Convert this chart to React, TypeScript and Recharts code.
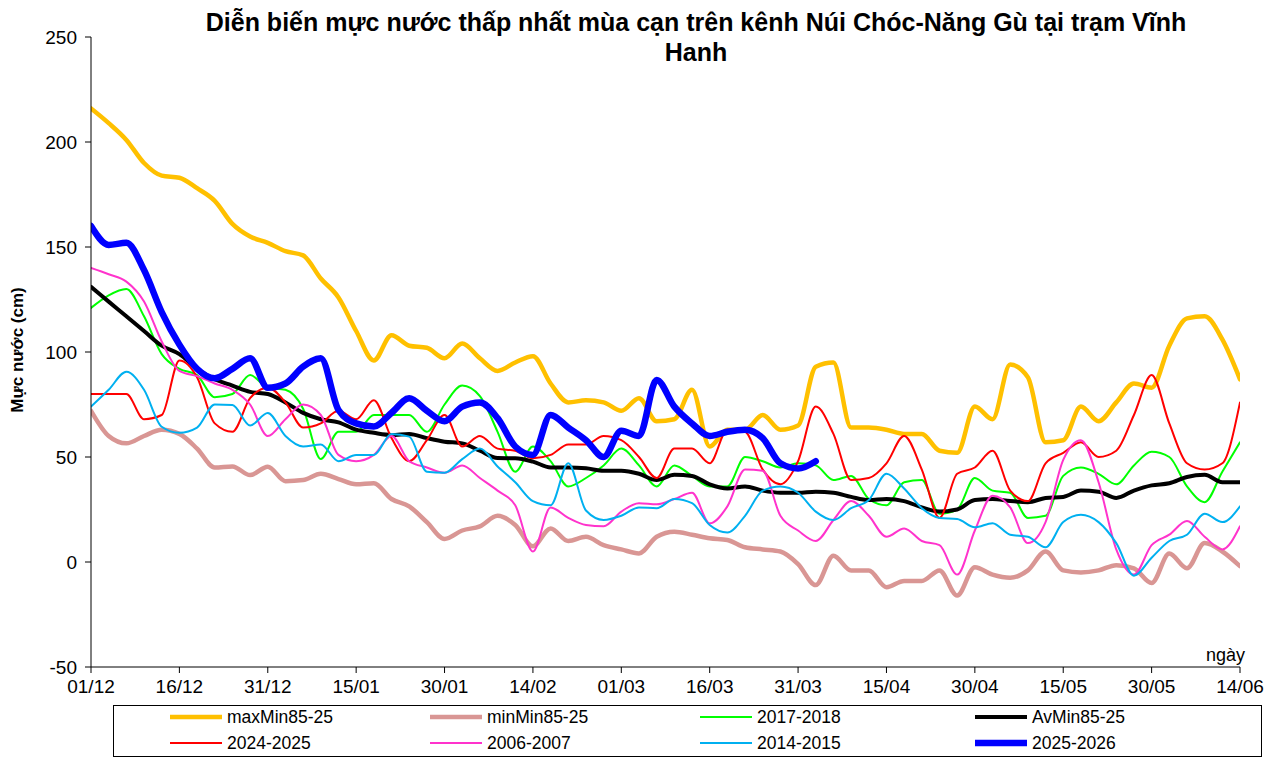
import React from 'react';
import { LineChart, Line, XAxis, YAxis } from 'recharts';

const days = [0,3,6,9,12,15,18,21,24,27,30,33,36,39,42,45,48,51,54,57,60,63,66,69,72,75,78,81,84,87,90,93,96,99,102,105,108,111,114,117,120,123,126,129,132,135,138,141,144,147,150,153,156,159,162,165,168,171,174,177,180,183,186,189,192,195];

const xTickDays = [0,15,30,45,60,75,90,105,120,135,150,165,180,195];
const xTickLabels = ['01/12','16/12','31/12','15/01','30/01','14/02','01/03','16/03','31/03','15/04','30/04','15/05','30/05','14/06'];
const yTicks = [-50,0,50,100,150,200,250];

const maxMin = [216,209,201,190,184,183,178,172,161,155,152,148,146,135,126,110,96,108,103,102,97,104,97,91,95,98,85,76,77,76,72,78,67,68,82,55,63,63,70,63,65,93,95,64,64,63,61,61,53,52,74,68,94,88,57,58,74,67,76,85,83,103,116,117,106,87];
const minMin = [72,60,56.5,60,63,61,54,45,45.5,41.4,45.4,38.5,39,42,39.5,37,37.5,30,26.5,19,11,15,17,22,17.6,7.5,16,10,12,8,6,4.1,12,14.4,13,11.3,10.5,7,6,5,-1,-11,3,-4,-4,-12,-9,-9,-4,-16,-2.5,-6,-7.5,-4,5,-4,-5,-4,-1.5,-3,-10,4,-3,9,5,-2];
const s2017 = [121,127,130,117,99,92,89,78.5,80,89,83,82,73,49,62,62,70,70,70,62,75,84,79,62,43,55,48,36,40,46,54,46,36,46,41,36,36,50,48,45,47,46,39,41,30,27,38,39,23,25,40,34,33,21,22,41,45,42,37,46,52.5,50,36,28.5,43,57];
const avMin = [131,124,117,110,103,99,92,87,84,81,80,76,71,68,66.5,63,61.5,60.5,61,59,57.3,56.5,53,49.5,49.4,47.8,45,45,44.6,43.5,43.5,42,39,41.5,41,37,35,36,34,33,33,33.5,33,31,29.5,30,29,26,24,25,29.5,30,29,28.5,30.5,31,34,33.5,30.5,34,36.5,37.5,40.5,41.5,38,38];
const s2024 = [80,80,80,68,70,96,88,66,62,78,83,76,64,66,72,68,77,59,48,58,70,55,60,54,53,49.4,51,56,56,60,58,50,40,54,54,47,63,62,44,37,48,74,61,39,40,47,60,44,21,42,45,53,34,29,47,52,57,50,53,70,89,66,47,44,47,76];
const s2006 = [140,137,133.5,124,105,91,88.5,85,82,75,60,68,75,70,51,48,51,60,48,45,42.5,46,40,34,27,5,26,21,17.6,17,24,28,27.5,30,33,18.4,26.5,44,43.5,22,15,10,20,29,22,12,16,10,8,-6,15,31.5,26,9,19,48.6,58,38,6,-6,8,13,19.5,12,6,17];
const s2014 = [74,82,90.6,82,64.4,61.5,64,75,74.8,65,71,60,55,56,48,51,51,61,59.7,43,42.5,49,54,45.5,38,29,27,47,24.5,20,22,26,25.6,30,28,17.6,14,22,34,36,33,24,20,25.6,29.5,42,35,25.6,21,20.5,16.5,18.5,13,12,7,19,22.5,19,9,-6.5,2,10,13,23,19,26.5];
const s2025 = [160,151,152,139,119,103.5,92,87.5,92,97,83,85,93,97,72.4,66,64.5,71,78,72,67,74,76,68.5,55,51,70,64,58,50,62.5,60,86.7,74,66,60,62,63,59,47,44.5,48,null,null,null,null,null,null,null,null,null,null,null,null,null,null,null,null,null,null,null,null,null,null,null,null];

const series = [
  { key: 'maxMin', name: 'maxMin85-25', color: '#FFC000', width: 4.5, values: maxMin },
  { key: 'minMin', name: 'minMin85-25', color: '#D99694', width: 4.5, values: minMin },
  { key: 's2017', name: '2017-2018', color: '#00FF00', width: 2, values: s2017 },
  { key: 'avMin', name: 'AvMin85-25', color: '#000000', width: 4, values: avMin },
  { key: 's2024', name: '2024-2025', color: '#FF0000', width: 2, values: s2024 },
  { key: 's2006', name: '2006-2007', color: '#FF33CC', width: 2, values: s2006 },
  { key: 's2014', name: '2014-2015', color: '#00B0F0', width: 2, values: s2014 },
  { key: 's2025', name: '2025-2026', color: '#0000FF', width: 6.5, values: s2025 },
];

const data = days.map((d, i) => {
  const row: Record<string, number | null> = { day: d };
  series.forEach((s) => { row[s.key] = s.values[i]; });
  return row;
});

const FONT = '"Liberation Sans", Arial, sans-serif';

const legendCols = [170, 430, 700, 975];
const legendRows = [717, 743];

export default function App() {
  return (
    <div style={{ position: 'absolute', left: 0, top: 0, width: 1280, height: 758, background: '#fff', fontFamily: FONT, overflow: 'hidden' }}>
      <div style={{ position: 'absolute', left: 146, top: 7, width: 1100, textAlign: 'center', fontWeight: 'bold', fontSize: 25, lineHeight: '30px', color: '#000' }}>
        Diễn biến mực nước thấp nhất mùa cạn trên kênh Núi Chóc-Năng Gù tại trạm Vĩnh<br />Hanh
      </div>
      <div style={{ position: 'absolute', left: 18, top: 350, transform: 'translate(-50%, -50%) rotate(-90deg)', whiteSpace: 'nowrap', fontWeight: 'bold', fontSize: 17, color: '#000' }}>
        Mực nước (cm)
      </div>
      <div style={{ position: 'absolute', left: 1206, top: 645, fontSize: 18, color: '#000' }}>ngày</div>
      <div style={{ position: 'absolute', left: 0, top: 0 }}>
        <LineChart width={1280} height={700} data={data} margin={{ top: 37, right: 40, bottom: 3, left: 0 }}>
          <XAxis
            dataKey="day"
            type="number"
            domain={[0, 195]}
            ticks={xTickDays}
            tickFormatter={(v: number) => xTickLabels[xTickDays.indexOf(v)]}
            height={30}
            stroke="#000"
            tickSize={6}
            tickMargin={7}
            tick={{ fill: '#000', fontSize: 19, fontFamily: FONT }}
            allowDataOverflow
            interval={0}
          />
          <YAxis
            type="number"
            domain={[-50, 250]}
            ticks={yTicks}
            width={91}
            stroke="#000"
            tickSize={6}
            tickMargin={8}
            tick={{ fill: '#000', fontSize: 19, fontFamily: FONT }}
            allowDataOverflow
            interval={0}
          />
          {series.map((s) => (
            <Line
              key={s.key}
              dataKey={s.key}
              name={s.name}
              type="monotone"
              stroke={s.color}
              strokeWidth={s.width}
              dot={false}
              activeDot={false}
              isAnimationActive={false}
              connectNulls={false}
              strokeLinejoin="round"
              strokeLinecap="round"
            />
          ))}
        </LineChart>
      </div>
      <div style={{ position: 'absolute', left: 113, top: 705, width: 1149, height: 52, border: '1px solid #000', boxSizing: 'border-box' }} />
      {series.map((s, i) => {
        const col = legendCols[i % 4];
        const row = legendRows[Math.floor(i / 4)];
        return (
          <div key={s.key} style={{ position: 'absolute', left: col, top: row - 11, height: 22, display: 'flex', alignItems: 'center', whiteSpace: 'nowrap' }}>
            <svg width={52} height={22} style={{ display: 'block' }}>
              <line x1={0} y1={11} x2={52} y2={11} stroke={s.color} strokeWidth={s.width} />
            </svg>
            <span style={{ marginLeft: 5, fontSize: 17.5, color: '#000' }}>{s.name}</span>
          </div>
        );
      })}
    </div>
  );
}
